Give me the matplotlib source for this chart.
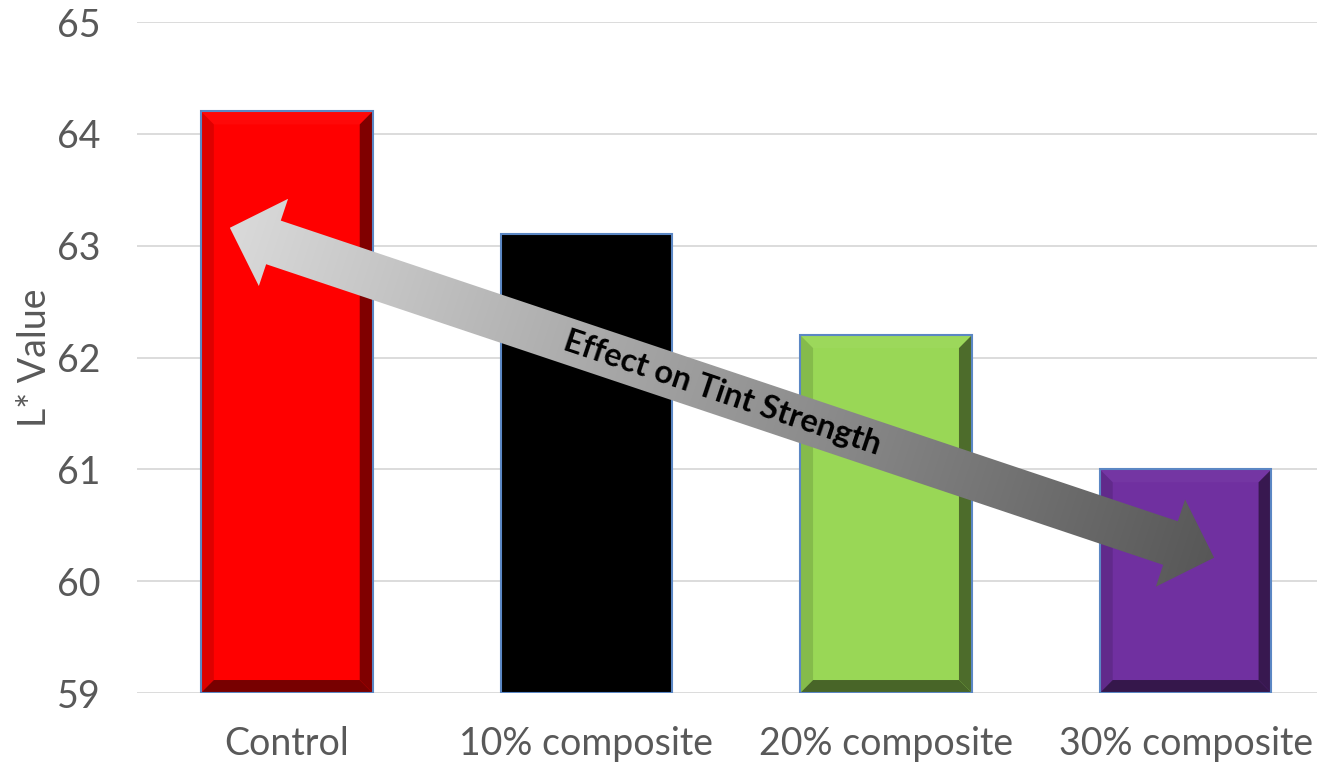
import numpy as np
import matplotlib
matplotlib.use("Agg")
import matplotlib.pyplot as plt
from matplotlib.patches import Polygon
from matplotlib.colors import to_rgb

categories = ["Control", "10% composite", "20% composite", "30% composite"]
l_values = [64.2, 63.1, 62.2, 61.0]
bar_colors = ["#ff0000", "#000000", "#99d756", "#7030a0"]
y_ticks = [59, 60, 61, 62, 63, 64, 65]
arrow_label = "Effect on Tint Strength"
# arrow end points (data coordinates): tint strength trend from Control to 30%
arrow_start = (-0.19, 63.16)
arrow_end = (3.095, 60.21)

plt.rcParams["font.family"] = ["Lato", "DejaVu Sans"]

fig = plt.figure(figsize=(13.17, 7.70), dpi=100)
ax = fig.add_axes([0.104, 0.1, 0.910, 0.8714])
ax.set_xlim(-0.5, 3.5)
ax.set_ylim(59, 65)
ax.set_yticks(y_ticks)
ax.set_xticks(range(len(categories)))
ax.set_xticklabels(categories)
ax.tick_params(length=0, labelsize=27, labelcolor="#595959")
ax.tick_params(axis="x", pad=24)
ax.tick_params(axis="y", pad=26)
for s in ax.spines.values():
    s.set_visible(False)
ax.yaxis.grid(True, color="#d9d9d9", linewidth=1.3)
ax.set_axisbelow(True)
ax.set_ylabel("L* Value", fontsize=27, color="#595959", labelpad=3)

width = 0.573
bev_x = 0.043
bev_y = 0.116
ymin = 59


def shade(c, f):
    r, g, b = to_rgb(c)
    return (r * f, g * f, b * f)


def lighten(c, f):
    r, g, b = to_rgb(c)
    return (r + (1 - r) * f, g + (1 - g) * f, b + (1 - b) * f)


bars = ax.bar(range(len(categories)), [v - ymin for v in l_values], bottom=ymin,
              width=width, color=bar_colors, edgecolor="none", zorder=2)

for i, (v, c) in enumerate(zip(l_values, bar_colors)):
    x0, x1 = i - width / 2, i + width / 2
    y0, y1 = ymin, v
    ix0, ix1 = x0 + bev_x, x1 - bev_x
    iy0, iy1 = y0 + bev_y, y1 - bev_y
    cols = {"top": lighten(c, 0.03), "left": shade(c, 0.87),
            "right": shade(c, 0.5), "bottom": shade(c, 0.47)}
    if c == "#000000":
        cols = {k: "#000000" for k in cols}
    polys = {
        "top": [(x0, y1), (x1, y1), (ix1, iy1), (ix0, iy1)],
        "bottom": [(x0, y0), (x1, y0), (ix1, iy0), (ix0, iy0)],
        "left": [(x0, y0), (x0, y1), (ix0, iy1), (ix0, iy0)],
        "right": [(x1, y0), (x1, y1), (ix1, iy1), (ix1, iy0)],
    }
    for k in ["top", "left", "right", "bottom"]:
        ax.add_patch(Polygon(polys[k], closed=True, facecolor=cols[k],
                             edgecolor="none", zorder=3))
    ax.add_patch(Polygon([(x0, y0), (x1, y0), (x1, y1), (x0, y1)], closed=True,
                         facecolor="none", edgecolor="#5b87c4", linewidth=1.5, zorder=4))

# double-headed arrow, built in display space so it keeps its shape
to_disp = ax.transData.transform
to_data = ax.transData.inverted().transform
p0 = np.array(to_disp(arrow_start))
p1 = np.array(to_disp(arrow_end))
d = p1 - p0
L = np.hypot(*d)
u = d / L
n = np.array([-u[1], u[0]])
shaft_hw = 23
head_hw = 46
head_len = 46
pts = [
    p0,
    p0 + u * head_len + n * head_hw,
    p0 + u * head_len + n * shaft_hw,
    p1 - u * head_len + n * shaft_hw,
    p1 - u * head_len + n * head_hw,
    p1,
    p1 - u * head_len - n * head_hw,
    p1 - u * head_len - n * shaft_hw,
    p0 + u * head_len - n * shaft_hw,
    p0 + u * head_len - n * head_hw,
]
pts_data = to_data(np.array(pts))
arrow_poly = Polygon(pts_data, closed=True, facecolor="none", edgecolor="none", zorder=5)
ax.add_patch(arrow_poly)

xmin_d, ymin_d = pts_data.min(axis=0)
xmax_d, ymax_d = pts_data.max(axis=0)
gx = np.linspace(xmin_d, xmax_d, 600)
gy = np.linspace(ymin_d, ymax_d, 300)
GX, GY = np.meshgrid(gx, gy)
disp = to_disp(np.column_stack([GX.ravel(), GY.ravel()]))
t = ((disp - p0) @ u) / L
t = np.clip(t, 0, 1).reshape(GX.shape)
light = np.array(to_rgb("#dadada"))
dark = np.array(to_rgb("#575757"))
img = light[None, None, :] * (1 - t[..., None]) + dark[None, None, :] * t[..., None]
im = ax.imshow(img, extent=(xmin_d, xmax_d, ymin_d, ymax_d), origin="lower",
               aspect="auto", zorder=5, interpolation="bilinear")
im.set_clip_path(arrow_poly)
ax.set_xlim(-0.5, 3.5)
ax.set_ylim(59, 65)

mid = to_data((p0 + p1) / 2)
angle = np.degrees(np.arctan2(d[1], d[0]))
ax.text(mid[0], mid[1], arrow_label, rotation=angle, rotation_mode="anchor",
        ha="center", va="center", fontsize=23.5, fontweight="bold", color="#000000",
        zorder=6)

fig.savefig("out.png", dpi=100)
